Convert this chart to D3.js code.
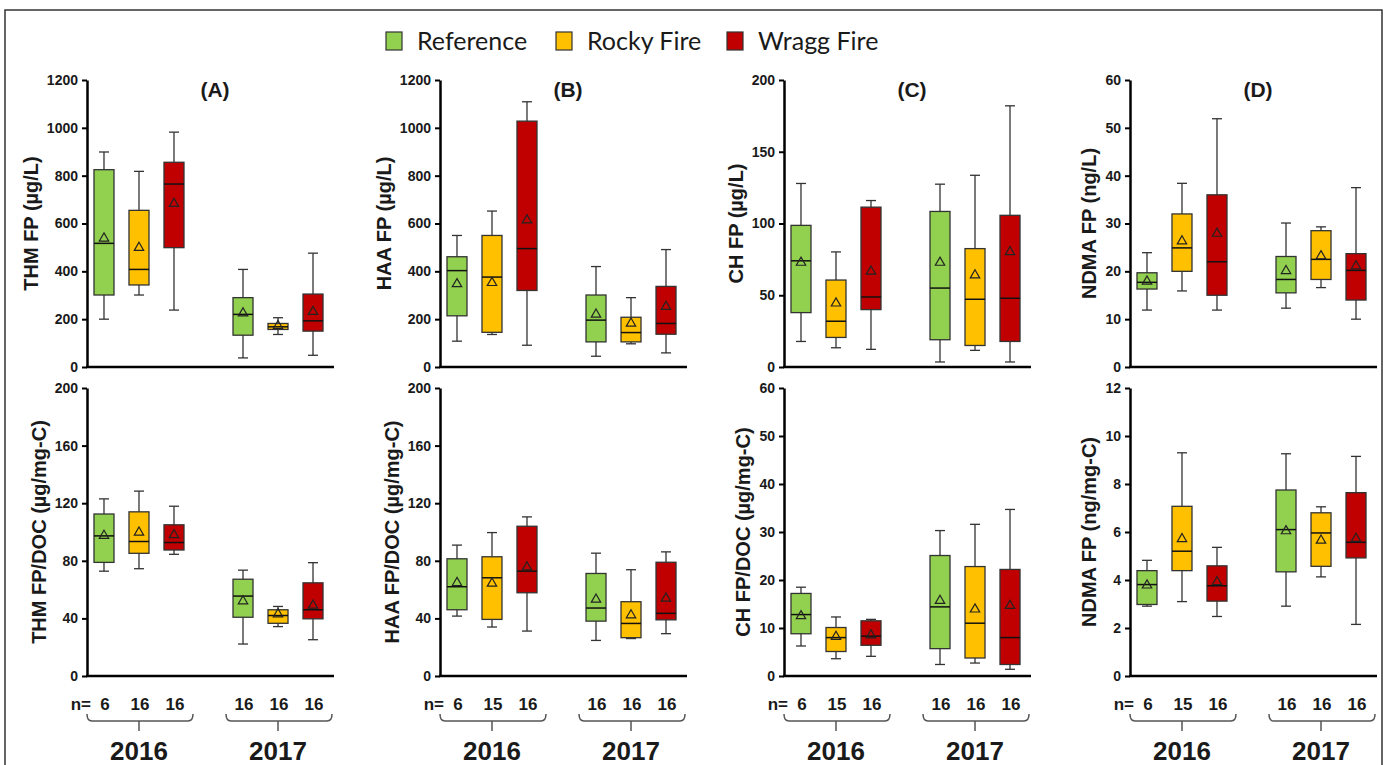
<!DOCTYPE html>
<html>
<head>
<meta charset="utf-8">
<script src="https://cdn.jsdelivr.net/npm/d3@7"></script>
<style>
  body { margin: 0; background: #fff; }
  svg { display: block; font-family: "Liberation Sans", Arial, sans-serif; }
</style>
</head>
<body>
<svg id="chart" width="1389" height="765"></svg>
<script>
// -- DATA -- //
const series = ["Reference", "Rocky Fire", "Wragg Fire"];
const seriesColors = ["#92D050", "#FFC000", "#C00000"];
const years = ["2016", "2017"];
const panelTags = ["(A)", "(B)", "(C)", "(D)"];
const topTitles = ["THM FP (µg/L)", "HAA FP (µg/L)", "CH FP (µg/L)", "NDMA FP (ng/L)"];
const bottomTitles = ["THM FP/DOC (µg/mg-C)", "HAA FP/DOC (µg/mg-C)", "CH FP/DOC (µg/mg-C)", "NDMA FP (ng/mg-C)"];
const topMax = [1200, 1200, 200, 60];
const topStep = [200, 200, 50, 10];
const bottomMax = [200, 200, 60, 12];
const bottomStep = [40, 40, 10, 2];
const sampleCounts = [
  [6, 16, 16, 16, 16, 16],
  [6, 15, 16, 16, 16, 16],
  [6, 15, 16, 16, 16, 16],
  [6, 15, 16, 16, 16, 16]
];

// each box: [low whisker, Q1, median, Q3, high whisker, mean]
// order: 2016 Reference, Rocky, Wragg, then 2017 Reference, Rocky, Wragg
const thmFP = [[200, 301, 517, 825, 899, 538], [301, 343, 408, 655, 818, 499], [238, 499, 765, 856, 982, 683],
               [38, 133, 220, 290, 408, 225], [136, 157, 168, 182, 206, 172], [49, 150, 193, 305, 476, 231]];
const haaFP = [[108, 214, 403, 461, 550, 347], [136, 145, 376, 550, 652, 352], [91, 320, 495, 1028, 1109, 614],
               [45, 105, 196, 301, 420, 220], [97, 105, 144, 208, 290, 182], [59, 137, 182, 337, 491, 252]];
const chFP = [[17.8, 37.9, 74, 98.7, 127.9, 72.8], [13.4, 20.6, 31.9, 60.6, 80.2, 44.4], [12.3, 40, 48.8, 111.4, 116, 66.6],
              [3.5, 19, 55, 108.4, 127.4, 72.8], [11.6, 15, 47.2, 82.5, 133.6, 64], [3.5, 17.8, 47.9, 105.7, 182, 80.2]];
const ndmaFP = [[11.9, 16.3, 17.7, 19.7, 23.9, 17.9], [15.9, 20, 24.9, 32, 38.4, 26.3], [11.9, 15, 22, 36, 51.9, 27.9],
                [12.3, 15.5, 18.3, 23.1, 30.1, 20.1], [16.6, 18.3, 22.5, 28.5, 29.3, 23.2], [10, 14, 20.2, 23.7, 37.5, 21.1]];
const thmDOC = [[72.8, 78.9, 97.3, 112.5, 123, 97.5], [74.5, 85.2, 93.4, 114, 128.4, 99.7], [84.5, 87.5, 92.7, 105, 117.9, 98],
                [22.2, 40.8, 55.5, 67.2, 73.5, 52], [34.3, 36.6, 42, 46, 48.3, 43], [25.2, 39.7, 46, 64.7, 78.7, 49]];
const haaDOC = [[41.6, 46, 62, 81.4, 90.9, 64.7], [34, 39.3, 68.2, 82.8, 99.6, 64.3], [31.2, 57.8, 72.8, 104, 110.5, 75.6],
                [24.7, 38.1, 47.2, 71.2, 85.3, 53.2], [26, 26.6, 36.5, 51.6, 73.8, 42.3], [29.4, 39, 43.5, 79, 86.2, 53.9]];
const chDOC = [[6.25, 8.8, 12.8, 17.2, 18.5, 12.5], [3.6, 5.1, 8, 10.1, 12.3, 8.2], [4.1, 6.4, 8.3, 11.5, 11.8, 8.5],
               [2.4, 5.7, 14.4, 25.1, 30.3, 15.7], [2.7, 3.75, 11, 22.8, 31.6, 13.9], [1.4, 2.4, 8, 22.2, 34.7, 14.65]];
const ndmaDOC = [[2.91, 2.98, 3.81, 4.39, 4.82, 3.78], [3.1, 4.39, 5.2, 7.07, 9.3, 5.71], [2.48, 3.12, 3.76, 4.59, 5.36, 3.92],
                 [2.91, 4.34, 6.1, 7.75, 9.26, 6.04], [4.13, 4.57, 5.96, 6.8, 7.05, 5.65], [2.15, 4.92, 5.57, 7.64, 9.15, 5.72]];

const topData = [thmFP, haaFP, chFP, ndmaFP];
const bottomData = [thmDOC, haaDOC, chDOC, ndmaDOC];

// -- LAYOUT -- //
const svg = d3.select("#chart");
const panelX = [87, 440, 784, 1130];
const panelW = 247;
const rows = [
  { y0: 367, y1: 80 },
  { y0: 676, y1: 388 }
];
const boxW = 20;
const ink = "#1a1a1a";

// frame round the figure
svg.append("path")
  .attr("d", "M5,765 V10 H1382 V765")
  .attr("fill", "none")
  .attr("stroke", "#333")
  .attr("stroke-width", 1.5);

// legend
const legendX = [386, 556, 727];
series.forEach((s, i) => {
  const lg = svg.append("g").attr("transform", `translate(${legendX[i]},32)`);
  lg.append("rect").attr("width", 16).attr("height", 18)
    .attr("fill", seriesColors[i]).attr("stroke", "#333").attr("stroke-width", 1.2);
  lg.append("text").attr("x", 31).attr("y", 18)
    .style("font-family", "Lato, 'Open Sans', sans-serif")
    .style("font-size", "25px").attr("fill", ink).text(s);
});

// x positions: one point per year, three boxes round it
const groupScale = d3.scalePoint().domain(years).range([0, 243]).padding(0.374);
const innerScale = d3.scalePoint().domain(series).range([-35, 35]);
function boxX(i) {
  return groupScale(years[Math.floor(i / 3)]) + innerScale(series[i % 3]);
}

function drawPanel(px, row, boxes, max, step, title) {
  const g = svg.append("g").attr("transform", `translate(${px},0)`);
  const y = d3.scaleLinear().domain([0, max]).range([row.y0, row.y1]);

  // y axis
  const axis = g.append("g")
    .call(d3.axisLeft(y)
      .tickValues(d3.range(0, max + step / 2, step))
      .tickFormat(d3.format("d"))
      .tickSize(5).tickSizeOuter(0).tickPadding(4));
  axis.attr("font-family", "Liberation Sans, Arial, sans-serif");
  axis.select(".domain").attr("stroke", "#000").attr("stroke-width", 2.5);
  axis.selectAll(".tick line").attr("stroke", "#000").attr("stroke-width", 2);
  axis.selectAll(".tick text")
    .attr("fill", ink)
    .style("font-size", "14px")
    .style("font-weight", "bold");

  // x axis line
  g.append("line")
    .attr("x1", -1).attr("x2", panelW)
    .attr("y1", row.y0).attr("y2", row.y0)
    .attr("stroke", "#000").attr("stroke-width", 2.5);

  // y axis title, left of the tick labels
  const left = axis.node().getBBox().x;
  g.append("text")
    .attr("transform", `translate(${left - 16},${(row.y0 + row.y1) / 2}) rotate(-90)`)
    .attr("text-anchor", "middle")
    .attr("dy", "0.35em")
    .attr("fill", ink)
    .style("font-size", "20px")
    .style("font-weight", "bold")
    .text(title);

  // boxes
  boxes.forEach((b, i) => {
    const cx = boxX(i);
    const [lo, q1, med, q3, hi, mean] = b;
    const bg = g.append("g");
    bg.append("line").attr("x1", cx).attr("x2", cx).attr("y1", y(hi)).attr("y2", y(lo))
      .attr("stroke", "#333").attr("stroke-width", 1.3);
    [lo, hi].forEach(v => {
      bg.append("line").attr("x1", cx - 5).attr("x2", cx + 5).attr("y1", y(v)).attr("y2", y(v))
        .attr("stroke", "#333").attr("stroke-width", 1.3);
    });
    bg.append("rect")
      .attr("x", cx - boxW / 2).attr("width", boxW)
      .attr("y", y(q3)).attr("height", y(q1) - y(q3))
      .attr("fill", seriesColors[i % 3])
      .attr("stroke", "#333").attr("stroke-width", 1.3);
    bg.append("line").attr("x1", cx - boxW / 2).attr("x2", cx + boxW / 2).attr("y1", y(med)).attr("y2", y(med))
      .attr("stroke", "#111").attr("stroke-width", 1.5);
    bg.append("path")
      .attr("d", d3.symbol().type(d3.symbolTriangle).size(38)())
      .attr("transform", `translate(${cx},${y(mean)})`)
      .attr("fill", "none").attr("stroke", "#222").attr("stroke-width", 1.2);
  });
  return g;
}

for (let p = 0; p < 4; p++) {
  const gTop = drawPanel(panelX[p], rows[0], topData[p], topMax[p], topStep[p], topTitles[p]);
  gTop.append("text")
    .attr("x", 128).attr("y", 97)
    .attr("text-anchor", "middle")
    .attr("fill", ink)
    .style("font-size", "21px").style("font-weight", "bold")
    .text(panelTags[p]);

  const gBot = drawPanel(panelX[p], rows[1], bottomData[p], bottomMax[p], bottomStep[p], bottomTitles[p]);

  // sample sizes
  gBot.append("text")
    .attr("x", boxX(0) - 13).attr("y", 710)
    .attr("text-anchor", "end").attr("fill", ink)
    .style("font-size", "17px").style("font-weight", "bold")
    .text("n=");
  sampleCounts[p].forEach((n, i) => {
    gBot.append("text")
      .attr("x", boxX(i) + 1).attr("y", 710)
      .attr("text-anchor", "middle").attr("fill", ink)
      .style("font-size", "17px").style("font-weight", "bold")
      .text(n);
  });

  // braces and year labels
  years.forEach(yr => {
    const c = groupScale(yr);
    const xl = c - 52, xr = c + 54;
    gBot.append("path")
      .attr("d", `M${xl},714 Q${xl},721 ${xl + 5},721 H${xr - 5} Q${xr},721 ${xr},714 M${c},721 V731`)
      .attr("fill", "none").attr("stroke", "#555").attr("stroke-width", 1.5);
    gBot.append("text")
      .attr("x", c).attr("y", 760)
      .attr("text-anchor", "middle").attr("fill", ink)
      .style("font-size", "26px").style("font-weight", "bold")
      .text(yr);
  });
}
</script>
</body>
</html>
